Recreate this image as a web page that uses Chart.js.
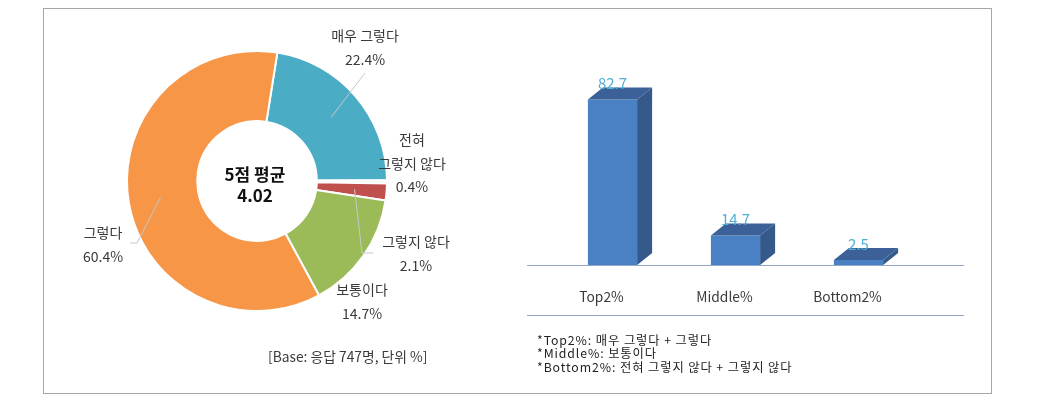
<!DOCTYPE html>
<html><head><meta charset="utf-8">
<script src="https://cdn.jsdelivr.net/npm/chart.js@4/dist/chart.umd.min.js"></script>
<style>
html,body{margin:0;padding:0;background:#fff;width:1051px;height:414px;overflow:hidden;font-family:'Noto Sans CJK KR','Noto Sans',sans-serif;}
#frame{position:absolute;left:43px;top:8px;width:947px;height:384px;border:1px solid #a6a6a6;}
#c1{position:absolute;left:0;top:0;}
#c2{position:absolute;left:520px;top:0;}
.txt{position:absolute;color:#3a3a3a;font-size:13.8px;white-space:nowrap;}
#center{position:absolute;left:195px;top:163px;width:120px;text-align:center;font-weight:bold;font-size:17px;line-height:21px;color:#111;}
#base{left:268px;top:346px;}
#notes{left:537px;top:334px;line-height:13.3px;color:#222;font-size:12.3px;letter-spacing:0.9px;}
</style></head>
<body>
<div id="frame"></div>
<canvas id="c1" width="520" height="414"></canvas>
<canvas id="c2" width="480" height="414"></canvas>
<div id="center">5점 평균<br>4.02</div>
<div class="txt" id="base">[Base: 응답 747명, 단위 %]</div>
<div class="txt" id="notes">*Top2%: 매우 그렇다 + 그렇다<br>*Middle%: 보통이다<br>*Bottom2%: 전혀 그렇지 않다 + 그렇지 않다</div>
<script>
// ---- data ----
const pieLabels = ["매우 그렇다", "전혀 그렇지 않다", "그렇지 않다", "보통이다", "그렇다"];
const pieLabelLines = [["매우 그렇다"], ["전혀", "그렇지 않다"], ["그렇지 않다"], ["보통이다"], ["그렇다"]];
const pieValues = [22.4, 0.4, 2.1, 14.7, 60.4];
const pieColors = ["#4bacc6", "#eeeeee", "#c0504d", "#9bbb59", "#f79646"];

const barLabels = ["Top2%", "Middle%", "Bottom2%"];
const barValues = [82.7, 14.7, 2.5];

const FONT = "'Noto Sans CJK KR','Noto Sans',sans-serif";

// label layout for donut (offsets from donut center), leader line waypoints
const labelLayout = [
  {x:108, y:-145, lead:[[108,-108]]},
  {x:155, y:-41, lead:null},
  {x:159, y:61, lead:[[105,72],[116,72]]},
  {x:105, y:109, lead:null},
  {x:-154, y:52, lead:[[-120,62],[-127,62]]}
];

const donutLabelsPlugin = {
  id:'donutLabels',
  afterDatasetsDraw(chart){
    const ctx = chart.ctx;
    const meta = chart.getDatasetMeta(0);
    ctx.save();
    meta.data.forEach((arc, i) => {
      const p = arc.getProps(['x','y','startAngle','endAngle','innerRadius','outerRadius'], true);
      const cx = p.x, cy = p.y;
      const mid = (p.startAngle + p.endAngle)/2;
      const r = (p.innerRadius + p.outerRadius)/2 + 3;
      const L = labelLayout[i];
      if (L.lead){
        ctx.strokeStyle = '#c8c8c8';
        ctx.lineWidth = 1;
        ctx.beginPath();
        ctx.moveTo(cx + r*Math.cos(mid), cy + r*Math.sin(mid));
        L.lead.forEach(pt => ctx.lineTo(cx+pt[0], cy+pt[1]));
        ctx.stroke();
      }
      ctx.fillStyle = '#3a3a3a';
      ctx.font = '14px ' + FONT;
      ctx.textAlign = 'center';
      ctx.textBaseline = 'middle';
      const lines = pieLabelLines[i].concat([pieValues[i].toFixed(1) + '%']);
      lines.forEach((t, k) => ctx.fillText(t, cx + L.x, cy + L.y + k*23.5));
    });
    ctx.restore();
  }
};

new Chart(document.getElementById('c1'), {
  type:'doughnut',
  data:{labels:pieLabels, datasets:[{data:pieValues, backgroundColor:pieColors, borderColor:'#ffffff', borderWidth:2}]},
  options:{
    responsive:false, animation:false,
    rotation:9, cutout:'46%',
    layout:{padding:{left:126, top:50, right:132, bottom:102}},
    plugins:{legend:{display:false}, tooltip:{enabled:false}}
  },
  plugins:[donutLabelsPlugin]
});

// ---- 3D bar chart ----
const DX = 15, DY = -12;
const bar3DPlugin = {
  id:'bar3d',
  beforeDatasetsDraw(chart){
    const ctx = chart.ctx, a = chart.chartArea;
    ctx.save();
    ctx.strokeStyle = '#8fa8c6';
    ctx.lineWidth = 1.2;
    ctx.beginPath();
    ctx.moveTo(a.left - 24, a.bottom + 0.5); ctx.lineTo(a.right + 44, a.bottom + 0.5);
    ctx.moveTo(a.left - 24, a.bottom + 50.5); ctx.lineTo(a.right + 44, a.bottom + 50.5);
    ctx.stroke();
    ctx.restore();
  },
  afterDatasetsDraw(chart){
    const ctx = chart.ctx;
    const meta = chart.getDatasetMeta(0);
    ctx.save();
    meta.data.forEach((b, i) => {
      const p = b.getProps(['x','y','base','width'], true);
      const l = p.x - p.width/2, r = p.x + p.width/2, t = p.y, base = p.base;
      // side
      ctx.fillStyle = '#35598a';
      ctx.beginPath();
      ctx.moveTo(r, t); ctx.lineTo(r+DX, t+DY); ctx.lineTo(r+DX, base+DY); ctx.lineTo(r, base); ctx.closePath(); ctx.fill();
      // top
      ctx.fillStyle = '#3b6198';
      ctx.beginPath();
      ctx.moveTo(l, t); ctx.lineTo(l+DX, t+DY); ctx.lineTo(r+DX, t+DY); ctx.lineTo(r, t); ctx.closePath(); ctx.fill();
      // value label
      ctx.fillStyle = '#4fb0d2';
      ctx.font = '15px ' + FONT;
      ctx.textAlign = 'center';
      ctx.textBaseline = 'middle';
      ctx.fillText(barValues[i].toFixed(1), p.x, t - 16);
    });
    ctx.restore();
  }
};

new Chart(document.getElementById('c2'), {
  type:'bar',
  data:{labels:barLabels, datasets:[{data:barValues, backgroundColor:'#4a80c4', borderWidth:0, barPercentage:0.4, categoryPercentage:1}]},
  options:{
    responsive:false, animation:false,
    layout:{padding:{left:31, right:80, top:65, bottom:0}},
    scales:{
      x:{
        grid:{display:false, drawTicks:false}, border:{display:false},
        ticks:{color:'#3a3a3a', font:{family:FONT, size:13.8}, padding:23, labelOffset:-11, maxRotation:0},
        afterFit(s){ s.height = 149; }
      },
      y:{display:false, min:0, max:100}
    },
    plugins:{legend:{display:false}, tooltip:{enabled:false}}
  },
  plugins:[bar3DPlugin]
});
</script>
</body></html>
